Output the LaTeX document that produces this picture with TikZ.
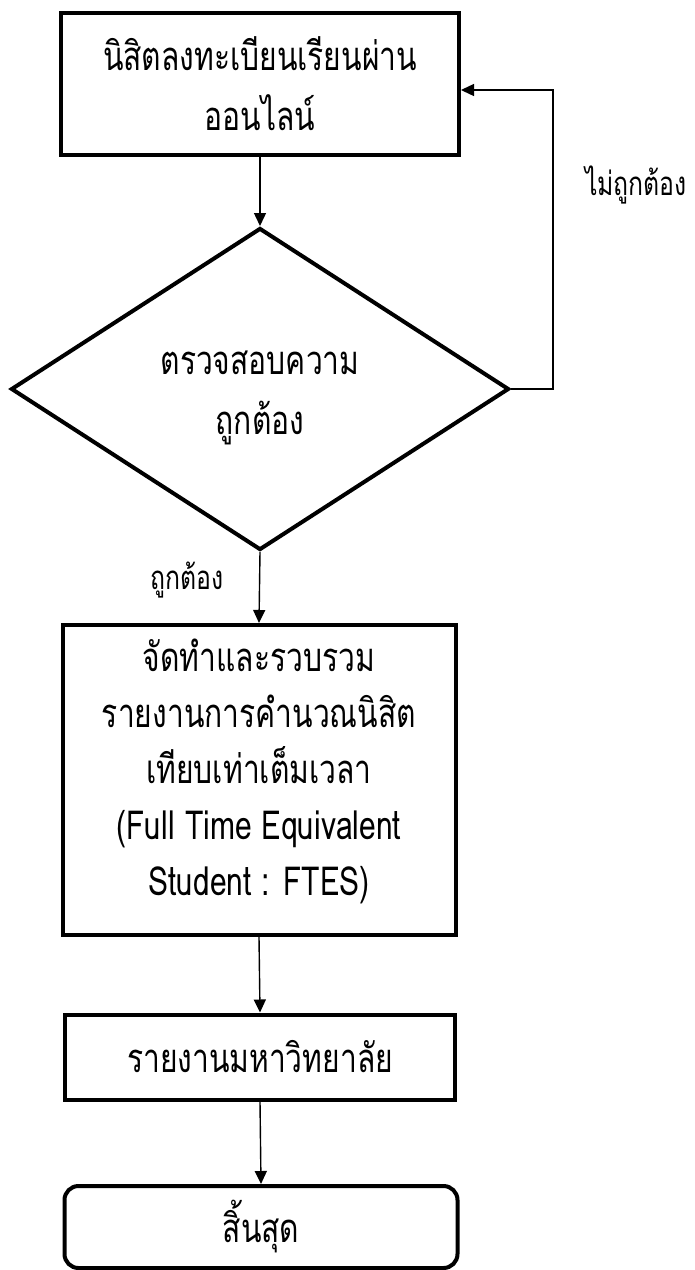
\documentclass[tikz,border=0pt]{standalone}
\usepackage{fontspec}
\newfontfamily\thai[Script=Thai,FakeStretch=0.75]{Loma}
\usetikzlibrary{shapes.geometric,arrows.meta}
\begin{document}
\begin{tikzpicture}[x=1pt,y=-1pt,
  boxstyle/.style={draw, line width=4pt, rectangle, align=center, inner sep=0pt,
    font=\thai\fontsize{40}{60}\selectfont},
  decision/.style={draw, line width=4pt, diamond, aspect=1.55, inner sep=0pt,
    minimum width=498pt, minimum height=322pt},
  txt/.style={align=center, inner sep=0pt, font=\thai\fontsize{40}{60}\selectfont},
  lbl/.style={font=\thai\fontsize{33}{36}\selectfont, inner sep=0pt},
  conn/.style={line width=1.4pt, -{Triangle[length=13pt,width=12pt]}}]
\useasboundingbox (0,0) rectangle (695,1270);
\node[boxstyle, minimum width=398pt, minimum height=142pt] (b1) at (260,84) {นิสิตลงทะเบียนเรียนผ่าน\\ออนไลน์};
\node[decision] (dia) at (260,389) {};
\node[txt] (diatext) at (260,398) {ตรวจสอบความ\\ถูกต้อง};
\node[boxstyle, minimum width=393pt, minimum height=310pt, font=\thai\fontsize{40}{56}\selectfont] (b3) at (259,780) {จัดทำและรวบรวม\\รายงานการคำนวณนิสิต\\เทียบเท่าเต็มเวลา\\(Full Time Equivalent\\Student : FTES)\\[-30pt]\mbox{}};
\node[boxstyle, minimum width=390pt, minimum height=85pt] (b4) at (260,1057) {รายงานมหาวิทยาลัย};
\node[boxstyle, rounded corners=14pt, minimum width=393pt, minimum height=82pt] (b5) at (261,1227) {สิ้นสุด};
\node[lbl, anchor=west] (no) at (585,185) {ไม่ถูกต้อง};
\node[lbl] (yes) at (187,580) {ถูกต้อง};
\coordinate (fb) at (553,90);
\draw[conn] (b1.south) -- (dia.north);
\draw[conn] (dia.south) -- (b3.north);
\draw[conn] (b3.south) -- (b4.north);
\draw[conn] (b4.south) -- (b5.north);
\draw[conn] (dia.east) -- (dia.east -| fb) -- (fb) -- (fb -| b1.east);
\end{tikzpicture}
\end{document}
